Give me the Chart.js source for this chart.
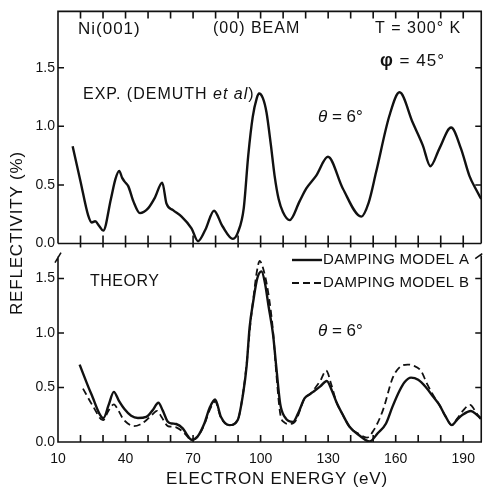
<!DOCTYPE html>
<html>
<head>
<meta charset="utf-8">
<script src="https://cdn.jsdelivr.net/npm/chart.js@4"></script>
<style>
  html, body { margin: 0; padding: 0; background: #fff; }
  #wrap { width: 484px; height: 495px; position: relative; }
</style>
</head>
<body>
<div id="wrap"><canvas id="chart"></canvas></div>
<script>
// Ni(001) (00) beam reflectivity vs electron energy — experiment (top) and theory (bottom)

const expEnergy = [16.5, 20, 23.4, 25, 26.5, 28.3, 30.1, 33.5, 35.5, 37.2, 38.5, 39.5, 41.2, 43.5, 46.4, 50, 53,
  56.3, 58.2, 61.1, 64.9, 69.3, 72.2, 75.5, 79.3, 83, 87.7, 90, 92.5, 94.5, 96.5, 98.3, 99.3, 101, 102.6, 104.5,
  106.2, 108, 109.9, 112.9, 117.3, 120.3, 124.7, 129.9, 136.5, 144.7, 148, 151.3, 157.2, 161.7, 167.6, 172, 175.4,
  179.4, 184.6, 189, 192.7, 196, 198];
const expRefl = [0.83, 0.53, 0.24, 0.18, 0.19, 0.15, 0.11, 0.38, 0.55, 0.62, 0.56, 0.53, 0.49, 0.36, 0.26, 0.30, 0.39,
  0.52, 0.34, 0.285, 0.23, 0.13, 0.02, 0.12, 0.28, 0.15, 0.04, 0.10, 0.30, 0.75, 1.08, 1.24, 1.28, 1.24, 1.12, 0.85,
  0.58, 0.38, 0.27, 0.20, 0.36, 0.47, 0.58, 0.74, 0.47, 0.23, 0.35, 0.61, 1.09, 1.29, 1.03, 0.84, 0.66,
  0.81, 0.99, 0.81, 0.58, 0.45, 0.38];

const modelAEnergy = [19.6, 24.8, 30.2, 32.5, 34.8, 37, 39.6, 42.5, 45.5, 49.2, 52, 54.6, 56.5, 58.8, 60.5, 62.5, 65.4,
  67.5, 69.3, 72, 75, 77.5, 79.8, 82.4, 86.1, 89.8, 92.2, 93.8, 95.1, 96.8, 98.5, 100.4, 102, 103.5, 105.5, 107, 108.7,
  110.7, 114.4, 117, 119.5, 122, 124, 126.5, 129.4, 131.5, 133.6, 136.5, 139.5, 143.9, 148.4, 152, 155.7, 158.5, 161.7,
  164, 166.8, 170, 173.5, 176.5, 179.4, 182, 184.9, 187.5, 189.7, 193.4, 196, 198];
const modelARefl = [0.71, 0.44, 0.22, 0.34, 0.46, 0.38, 0.30, 0.24, 0.22, 0.23, 0.29, 0.36, 0.29, 0.185, 0.17, 0.165, 0.125,
  0.06, 0.02, 0.05, 0.17, 0.32, 0.39, 0.23, 0.155, 0.20, 0.44, 0.70, 1.05, 1.30, 1.50, 1.565, 1.45, 1.25, 0.99, 0.68, 0.35,
  0.23, 0.185, 0.28, 0.40, 0.44, 0.47, 0.51, 0.56, 0.48, 0.37, 0.25, 0.14, 0.06, 0.005, 0.08, 0.17, 0.32, 0.47,
  0.55, 0.59, 0.57, 0.50, 0.42, 0.34, 0.24, 0.155, 0.21, 0.25, 0.285, 0.25, 0.215];

const modelBEnergy = [21.1, 25.5, 30, 32.5, 34.8, 36.8, 38.8, 41, 43.7, 46.5, 49.2, 52, 54, 56, 58.8, 60.5, 62.5, 65.4,
  67.5, 69.1, 72, 75, 77.5, 79.8, 82.4, 86.1, 89.8, 92, 93.8, 95.3, 96.8, 98.3, 99.6, 101, 103.3, 105.5, 107, 108.7,
  110.5, 112.9, 115.7, 119.5, 122, 124, 126.5, 129.1, 131.5, 133.6, 136.5, 139.5, 143.9, 147.2, 150, 154.3, 158.7, 162,
  165.3, 168, 171.3, 174, 177.2, 179.4, 182, 184.9, 187.5, 190, 193, 196, 198];
const modelBRefl = [0.49, 0.33, 0.20, 0.29, 0.345, 0.29, 0.215, 0.17, 0.145, 0.16, 0.20, 0.255, 0.285, 0.23, 0.145, 0.14,
  0.135, 0.095, 0.05, 0.015, 0.05, 0.16, 0.30, 0.37, 0.22, 0.155, 0.20, 0.42, 0.72, 1.05, 1.32, 1.56, 1.66, 1.60, 1.38,
  1.02, 0.62, 0.26, 0.18, 0.165, 0.20, 0.40, 0.44, 0.49, 0.56, 0.655, 0.52, 0.37, 0.25, 0.14, 0.07, 0.04, 0.10, 0.29,
  0.59, 0.69, 0.71, 0.70, 0.65, 0.53, 0.41, 0.34, 0.24, 0.155, 0.22, 0.29, 0.34, 0.26, 0.20];

const xTickLabels = [10, 40, 70, 100, 130, 160, 190];
const xMinorTicks = [20, 30, 40, 50, 60, 70, 80, 90, 100, 110, 120, 130, 140, 150, 160, 170, 180, 190];
const yTickLabels = [0, 0.5, 1.0, 1.5];

const FONT = '"Liberation Sans", Arial, sans-serif';
const INK = '#111';

function pts(xs, ys) { return xs.map((x, i) => ({ x, y: ys[i] })); }

function text(ctx, str, x, y, size, style) {
    ctx.font = `${style || ''} ${size}px ${FONT}`;
    ctx.fillText(str, x, y);
    return ctx.measureText(str).width;
}

const framePlugin = {
    id: 'frame',
    afterDraw(chart) {
        const { ctx, chartArea: ca, scales } = chart;
        const xs = scales.x, yT = scales.yTop, yB = scales.yBot;
        const L = ca.left, R = ca.right, T = yT.top, M = yT.bottom, B = yB.bottom;
        ctx.save();
        ctx.strokeStyle = INK;
        ctx.lineWidth = 1.6;
        ctx.beginPath();
        // upper box + shared line
        ctx.moveTo(L, M); ctx.lineTo(L, T); ctx.lineTo(R, T); ctx.lineTo(R, M);
        ctx.moveTo(L, M); ctx.lineTo(R, M);
        // lower box, broken at the top of its y axes
        ctx.moveTo(L, M + 13); ctx.lineTo(L, B); ctx.lineTo(R, B); ctx.lineTo(R, M + 12);
        // break marks
        ctx.moveTo(L - 3, M + 19); ctx.lineTo(L + 3, M + 9);
        ctx.moveTo(R - 6, M + 15); ctx.lineTo(R + 1, M + 10);
        // x ticks (inward)
        xMinorTicks.forEach(v => {
            const px = xs.getPixelForValue(v);
            ctx.moveTo(px, T); ctx.lineTo(px, T + 7);
            ctx.moveTo(px, M - 8); ctx.lineTo(px, M + 4);
            ctx.moveTo(px, B); ctx.lineTo(px, B - 7);
        });
        // y ticks (inward, both sides)
        [yT, yB].forEach(s => yTickLabels.filter(v => v > 0).forEach(v => {
            const py = s.getPixelForValue(v);
            ctx.moveTo(L, py); ctx.lineTo(L + 6, py);
            ctx.moveTo(R, py); ctx.lineTo(R - 6, py);
        }));
        ctx.stroke();

        // legend
        ctx.beginPath();
        ctx.lineWidth = 2.4;
        ctx.moveTo(292, 260); ctx.lineTo(322, 260);
        ctx.stroke();
        ctx.beginPath();
        ctx.lineWidth = 1.8;
        ctx.setLineDash([7, 4]);
        ctx.moveTo(292, 283); ctx.lineTo(323, 283);
        ctx.stroke();
        ctx.setLineDash([]);

        // annotations
        ctx.fillStyle = INK;
        ctx.textBaseline = 'middle';
        ctx.textAlign = 'left';
        ctx.letterSpacing = '1px';
        text(ctx, 'Ni(001)', 78, 29, 17);
        text(ctx, '(00) BEAM', 213, 29, 16);
        text(ctx, 'T = 300° K', 375, 29, 16);
        let w = text(ctx, 'φ', 380, 61, 18, 'bold');
        text(ctx, ' = 45°', 380 + w, 61, 17);
        w = text(ctx, 'EXP. (DEMUTH ', 83, 95, 16);
        w += text(ctx, 'et al', 83 + w, 95, 16, 'italic');
        text(ctx, ')', 83 + w, 95, 16);
        ctx.letterSpacing = '0px';
        w = text(ctx, 'θ', 318, 117, 17, 'italic');
        text(ctx, ' = 6°', 318 + w, 117, 17);
        ctx.letterSpacing = '0.5px';
        text(ctx, 'THEORY', 90, 282, 16);
        ctx.letterSpacing = '0.3px';
        text(ctx, 'DAMPING MODEL A', 323, 260, 15);
        text(ctx, 'DAMPING MODEL B', 323, 283, 15);
        ctx.letterSpacing = '0px';
        w = text(ctx, 'θ', 318, 331, 17, 'italic');
        text(ctx, ' = 6°', 318 + w, 331, 17);

        // axis titles
        ctx.textAlign = 'center';
        ctx.letterSpacing = '0.8px';
        text(ctx, 'ELECTRON ENERGY (eV)', 277, 479, 17);
        ctx.letterSpacing = '0.8px';
        ctx.translate(17, 233);
        ctx.rotate(-Math.PI / 2);
        text(ctx, 'REFLECTIVITY (%)', 0, 0, 17);
        ctx.restore();
    }
};

const yAxisBase = {
    type: 'linear',
    position: 'left',
    stack: 'panels',
    min: 0,
    grid: { display: false, drawTicks: false },
    border: { display: false },
    afterBuildTicks: s => { s.ticks = yTickLabels.map(v => ({ value: v })); },
    afterFit: s => { s.width = 58; },
    ticks: {
        padding: 3, color: INK, autoSkip: false,
        font: { family: FONT, size: 14 },
        callback: v => Number(v).toFixed(1),
    },
};

new Chart(document.getElementById('chart'), {
    type: 'line',
    data: {
        datasets: [
            { data: pts(expEnergy, expRefl), yAxisID: 'yTop', borderColor: INK, borderWidth: 2.4 },
            { data: pts(modelAEnergy, modelARefl), yAxisID: 'yBot', borderColor: INK, borderWidth: 2.4 },
            { data: pts(modelBEnergy, modelBRefl), yAxisID: 'yBot', borderColor: INK, borderWidth: 1.8, borderDash: [7, 4] },
        ],
    },
    options: {
        responsive: true,
        maintainAspectRatio: false,
        animation: false,
        layout: { padding: { top: 8, right: 2, left: 0, bottom: 0 } },
        plugins: { legend: { display: false }, tooltip: { enabled: false } },
        elements: {
            point: { radius: 0 },
            line: { cubicInterpolationMode: 'monotone', fill: false },
        },
        scales: {
            x: {
                type: 'linear', min: 10, max: 198,
                grid: { display: false, drawTicks: false },
                border: { display: false },
                afterBuildTicks: s => { s.ticks = xTickLabels.map(v => ({ value: v })); },
                afterFit: s => { s.height = 53; },
                ticks: {
                    padding: 9, color: INK, autoSkip: false, maxRotation: 0,
                    font: { family: FONT, size: 14 },
                    callback: v => String(v),
                },
            },
            yBot: { ...yAxisBase, max: 1.82, stackWeight: 200 },
            yTop: { ...yAxisBase, max: 1.98, stackWeight: 234 },
        },
    },
    plugins: [framePlugin],
});
</script>
</body>
</html>
